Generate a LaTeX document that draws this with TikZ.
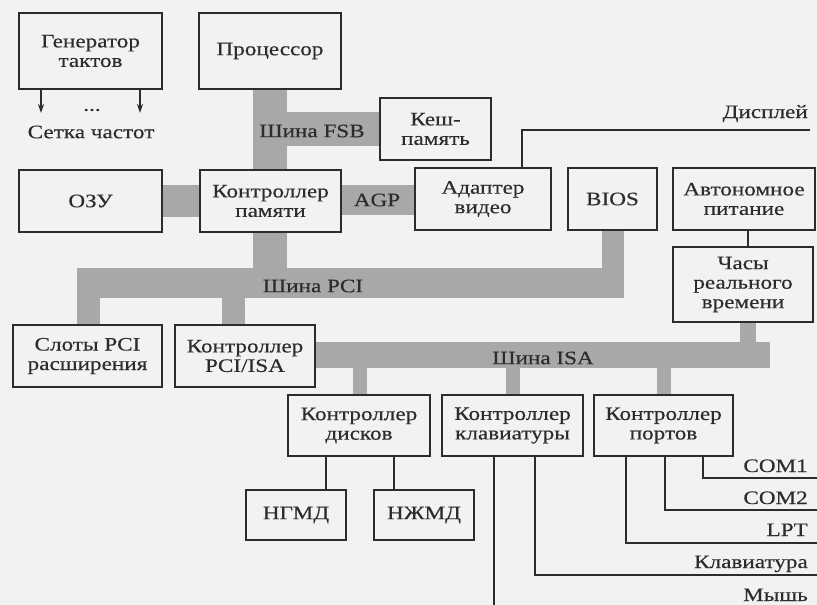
\documentclass[tikz,border=0pt]{standalone}
\usepackage{fontspec}
\setmainfont[FakeStretch=1.22,FakeBold=0.35]{Liberation Serif}
\usetikzlibrary{arrows.meta}
\definecolor{bg}{HTML}{F2F2F2}
\definecolor{ink}{HTML}{2C2C2C}
\definecolor{busc}{HTML}{A8A8A8}
\tikzset{
  box/.style={draw=ink, line width=1.8pt, fill=bg, text=ink, align=center, inner sep=0pt, font=\fontsize{19}{19.5}\selectfont},
  bus/.style={fill=busc},
  wire/.style={draw=ink, line width=1.5pt},
  lbl/.style={text=ink, font=\fontsize{19}{19.5}\selectfont, inner sep=0pt},
}
\begin{document}
\begin{tikzpicture}[x=1pt,y=-1pt]
\fill[bg] (0,0) rectangle (817,605);
\useasboundingbox (0,0) rectangle (817,605);

% ---- buses (grey bands) ----
\fill[bus] (253,89) rectangle (287,268);   % FSB vertical
\fill[bus] (287,112) rectangle (380,146);  % FSB to cache
\fill[bus] (162,185) rectangle (200,217);  % memory bus
\fill[bus] (341,185) rectangle (415,215);  % AGP
\fill[bus] (77,268) rectangle (624,298);   % PCI bus
\fill[bus] (602,230) rectangle (624,268);  % BIOS
\fill[bus] (77,298) rectangle (100,325);   % slots drop
\fill[bus] (222,298) rectangle (245,325);  % PCI/ISA drop
\fill[bus] (315,342) rectangle (770,368);  % ISA bus
\fill[bus] (740,322) rectangle (756,342);  % RTC
\fill[bus] (353,368) rectangle (367,395);  % disks
\fill[bus] (506,368) rectangle (520,395);  % keyboard
\fill[bus] (657,368) rectangle (671,395);  % ports

% ---- boxes ----
\node[box, minimum width=143pt, minimum height=76pt] (gen) at (90.5,51) {Генератор\\тактов};
\node[box, minimum width=142pt, minimum height=76pt] (proc) at (270,51) {Процессор};
\node[box, minimum width=111pt, minimum height=62pt] (cache) at (435.5,129) {Кеш-\\память};
\node[box, minimum width=143pt, minimum height=62pt] (ram) at (90.5,201) {ОЗУ};
\node[box, minimum width=141pt, minimum height=62pt] (mc) at (270.5,201) {Контроллер\\памяти};
\node[box, minimum width=136pt, minimum height=62pt] (video) at (483,199) {Адаптер\\видео};
\node[box, minimum width=89pt, minimum height=62pt] (bios) at (612.5,199) {BIOS};
\node[box, minimum width=142pt, minimum height=62pt] (power) at (744,199) {Автономное\\питание};
\node[box, minimum width=140pt, minimum height=75pt] (rtc) at (743,284.5) {Часы\\реального\\времени};
\node[box, minimum width=149pt, minimum height=62pt] (slots) at (87.5,356) {Слоты PCI\\расширения};
\node[box, minimum width=140pt, minimum height=62pt] (pciisa) at (245,356) {Контроллер\\PCI/ISA};
\node[box, minimum width=142pt, minimum height=61pt] (dc) at (359,425.5) {Контроллер\\дисков};
\node[box, minimum width=141pt, minimum height=61pt] (kc) at (512.5,425.5) {Контроллер\\клавиатуры};
\node[box, minimum width=139pt, minimum height=61pt] (pc) at (663.5,425.5) {Контроллер\\портов};
\node[box, minimum width=100pt, minimum height=50pt] (fdd) at (296,515) {НГМД};
\node[box, minimum width=100pt, minimum height=50pt] (hdd) at (424,515) {НЖМД};

% ---- bus labels ----
\node[lbl] (lfsb) at (312,131) {Шина FSB};
\node[lbl] (lagp) at (377,200) {AGP};
\node[lbl] (lpci) at (313,286) {Шина PCI};
\node[lbl] (lisa) at (543,358) {Шина ISA};

% ---- clock generator ----
\coordinate (g1) at (41,113);
\coordinate (g2) at (140,113);
\draw[wire,-{Stealth[length=9pt,width=6pt]}] ([xshift=-49.5pt]gen.south) -- (g1);
\draw[wire,-{Stealth[length=9pt,width=6pt]}] ([xshift=49.5pt]gen.south) -- (g2);
\node[lbl] (dots) at (92,110) {...};
\node[lbl] (grid) at (91,132) {Сетка частот};

% ---- display ----
\coordinate (disp) at (810,130);
\draw[wire] ([xshift=39pt]video.north) |- (disp);
\node[lbl, anchor=base east] (ldisp) at (808,118) {Дисплей};

% ---- power to RTC ----
\draw[wire] ([xshift=4pt]power.south) -- ([xshift=4pt]power.south |- rtc.north);

% ---- disks ----
\draw[wire] ([xshift=-33pt]dc.south) -- ([xshift=-33pt]dc.south |- fdd.north);
\draw[wire] ([xshift=35pt]dc.south) -- ([xshift=35pt]dc.south |- hdd.north);

% ---- keyboard controller ----
\coordinate (mouse) at (494,605);
\coordinate (kbd) at (817,575);
\draw[wire] ([xshift=-18.5pt]kc.south) -- (mouse);
\draw[wire] ([xshift=22.5pt]kc.south) |- (kbd);

% ---- ports ----
\coordinate (lpt) at (817,543);
\coordinate (com2) at (817,510);
\coordinate (com1) at (817,478);
\draw[wire] ([xshift=-37.5pt]pc.south) |- (lpt);
\draw[wire] ([xshift=1.5pt]pc.south) |- (com2);
\draw[wire] ([xshift=39.5pt]pc.south) |- (com1);

\node[lbl, anchor=base east] (lcom1) at (808,472) {COM1};
\node[lbl, anchor=base east] (lcom2) at (808,504) {COM2};
\node[lbl, anchor=base east] (llpt) at (808,536) {LPT};
\node[lbl, anchor=base east] (lkbd) at (808,568) {Клавиатура};
\node[lbl, anchor=base east] (lmouse) at (808,601) {Мышь};
\end{tikzpicture}
\end{document}
